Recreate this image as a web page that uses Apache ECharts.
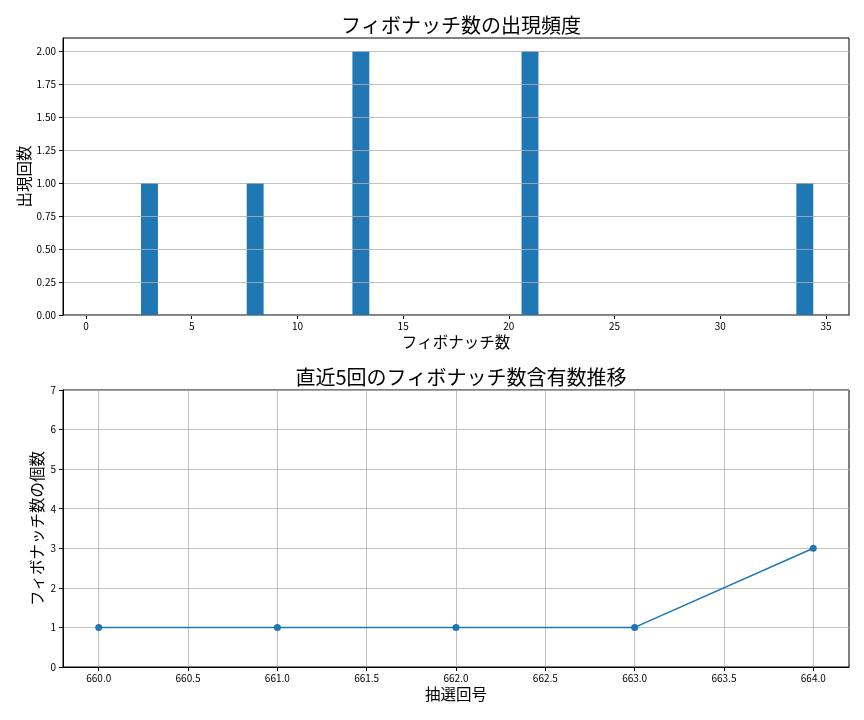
<!DOCTYPE html>
<html>
<head>
<meta charset="utf-8">
<script src="https://cdn.jsdelivr.net/npm/echarts@6/dist/echarts.min.js"></script>
<style>
html,body{margin:0;padding:0;background:#fff;}
#c{width:864px;height:720px;}
</style>
</head>
<body>
<div id="c"></div>
<script>
// ---- data ----
const fibNumbers = [1, 2, 3, 5, 8, 13, 21, 34];
const fibCounts  = [0, 0, 1, 0, 1, 2, 2, 1];
const topXTicks = [0, 5, 10, 15, 20, 25, 30, 35];
const topYTicks = [0, 0.25, 0.5, 0.75, 1.0, 1.25, 1.5, 1.75, 2.0];

const drawNumbers = [660, 661, 662, 663, 664];
const fibPerDraw  = [1, 1, 1, 1, 3];
const botXTicks = [660, 660.5, 661, 661.5, 662, 662.5, 663, 663.5, 664];
const botYTicks = [0, 1, 2, 3, 4, 5, 6, 7];

const FONT = '"Noto Sans CJK JP", "Noto Sans", sans-serif';
const BLUE = '#1f77b4';
const GRIDC = '#b0b0b0';

const chart = echarts.init(document.getElementById('c'), null, {renderer: 'canvas'});

const tickLabel = {fontFamily: FONT, fontSize: 10, color: '#000'};
const axisLine = {show: true, onZero: false, lineStyle: {color: '#000', width: 1}};
const axisTick = {show: true, length: 4, lineStyle: {color: '#000', width: 1}};
const split = {show: true, lineStyle: {color: GRIDC, width: 0.8}};
const nameStyle = {fontFamily: FONT, fontSize: 15.5, color: '#000'};

chart.setOption({
  animation: false,
  backgroundColor: '#fff',
  title: [
    {text: 'フィボナッチ数の出現頻度', left: 456, top: 10, textAlign: 'center',
     textStyle: {fontFamily: FONT, fontSize: 20, fontWeight: 'normal', color: '#000'}},
    {text: '直近5回のフィボナッチ数含有数推移', left: 456, top: 362, textAlign: 'center',
     textStyle: {fontFamily: FONT, fontSize: 20, fontWeight: 'normal', color: '#000'}}
  ],
  grid: [
    {left: 63, width: 786, top: 38, height: 277, show: true, borderColor: '#000', borderWidth: 1, backgroundColor: 'transparent'},
    {left: 63, width: 786, top: 390, height: 277, show: true, borderColor: '#000', borderWidth: 1, backgroundColor: 'transparent'}
  ],
  xAxis: [
    {type: 'value', gridIndex: 0, min: -1.09, max: 36.09,
     name: 'フィボナッチ数', nameLocation: 'middle', nameGap: 19, nameMoveOverlap: false, nameTextStyle: nameStyle,
     axisLine: axisLine, axisTick: Object.assign({customValues: topXTicks}, axisTick),
     axisLabel: Object.assign({customValues: topXTicks, margin: 6, formatter: v => String(v)}, tickLabel),
     splitLine: {show: false}},
    {type: 'value', gridIndex: 1, min: 659.8, max: 664.2,
     name: '抽選回号', nameLocation: 'middle', nameGap: 19, nameMoveOverlap: false, nameTextStyle: nameStyle,
     axisLine: axisLine, axisTick: Object.assign({customValues: botXTicks}, axisTick),
     axisLabel: Object.assign({customValues: botXTicks, margin: 6, formatter: v => v.toFixed(1)}, tickLabel),
     splitLine: split, z: 1}
  ],
  yAxis: [
    {type: 'value', gridIndex: 0, min: 0, max: 2.1,
     name: '出現回数', nameLocation: 'middle', nameGap: 31, nameMoveOverlap: false, nameTextStyle: nameStyle,
     axisLine: axisLine, axisTick: Object.assign({customValues: topYTicks}, axisTick),
     axisLabel: Object.assign({customValues: topYTicks, margin: 7, formatter: v => v.toFixed(2)}, tickLabel),
     splitLine: split, z: 5},
    {type: 'value', gridIndex: 1, min: 0, max: 7,
     name: 'フィボナッチ数の個数', nameLocation: 'middle', nameGap: 18, nameMoveOverlap: false, nameTextStyle: nameStyle,
     axisLine: axisLine, axisTick: Object.assign({customValues: botYTicks}, axisTick),
     axisLabel: Object.assign({customValues: botYTicks, margin: 7, formatter: v => String(v)}, tickLabel),
     splitLine: split, z: 1}
  ],
  series: [
    {type: 'custom', xAxisIndex: 0, yAxisIndex: 0, z: 2,
     data: fibNumbers.map((n, i) => [n, fibCounts[i]]),
     renderItem: function (params, api) {
       const x = api.value(0), y = api.value(1);
       const p0 = api.coord([x - 0.4, y]);
       const p1 = api.coord([x + 0.4, 0]);
       return {type: 'rect',
         shape: {x: p0[0], y: p0[1], width: p1[0] - p0[0], height: p1[1] - p0[1]},
         style: {fill: BLUE}};
     }},
    {type: 'line', xAxisIndex: 1, yAxisIndex: 1, z: 10,
     data: drawNumbers.map((n, i) => [n, fibPerDraw[i]]),
     symbol: 'circle', symbolSize: 7,
     lineStyle: {color: BLUE, width: 1.5},
     itemStyle: {color: BLUE}}
  ]
});
</script>
</body>
</html>
